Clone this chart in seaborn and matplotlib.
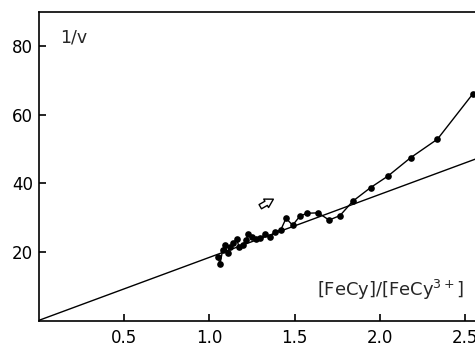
import matplotlib
matplotlib.use("Agg")
import matplotlib.pyplot as plt
import seaborn as sns
import pandas as pd

# measured data points (ratio [FeCy]/[FeCy3+], 1/v)
ratio = [1.053, 1.063, 1.079, 1.093, 1.108, 1.122, 1.141, 1.161, 1.176, 1.196,
         1.216, 1.229, 1.249, 1.274, 1.298, 1.327, 1.356, 1.385, 1.419, 1.450,
         1.489, 1.532, 1.575, 1.639, 1.702, 1.766, 1.841, 1.946, 2.046, 2.180,
         2.337, 2.544]
inv_v = [18.4, 16.4, 20.6, 22.0, 19.6, 21.5, 22.7, 23.7, 21.3, 22.0,
         23.5, 25.1, 24.3, 23.8, 24.0, 25.1, 24.4, 25.8, 26.4, 29.8,
         27.8, 30.5, 31.3, 31.4, 29.3, 30.6, 34.8, 38.8, 42.1, 47.5,
         52.9, 66.1]

# straight reference line through origin
fit_x = [0.0, 2.56]
fit_y = [0.0, 47.1]

x_ticks = [0.5, 1.0, 1.5, 2.0, 2.5]
x_ticklabels = ["0.5", "1.0", "1.5", "2.0", "2.5"]
y_ticks = [20, 40, 60, 80]
y_ticklabels = ["20", "40", "60", "80"]

sns.set_style("ticks")
plt.rcParams['font.family'] = ['DejaVu Sans']

W, H = 475, 347
fig = plt.figure(figsize=(W / 100, H / 100), dpi=100)
left, bottom, right, top = 38.5, 320.5, 475.0, 12.0
ax = fig.add_axes([left / W, (H - bottom) / H, (right - left) / W, (bottom - top) / H])

df = pd.DataFrame({"x": ratio, "y": inv_v})
fit = pd.DataFrame({"x": fit_x, "y": fit_y})

sns.lineplot(data=fit, x="x", y="y", ax=ax, color="black", linewidth=1.0, sort=False)
sns.lineplot(data=df, x="x", y="y", ax=ax, color="black", linewidth=1.0, sort=False,
             marker="o", markersize=4.8, markeredgewidth=0, markerfacecolor="black")

ax.set_xlim(0, 2.557)
ax.set_ylim(0, 90)
ax.set_xticks(x_ticks)
ax.set_xticklabels(x_ticklabels)
ax.set_yticks(y_ticks)
ax.set_yticklabels(y_ticklabels)
ax.tick_params(axis="both", direction="in", length=5, width=1.2, labelsize=12,
               colors="black")
ax.tick_params(axis="x", pad=6)
ax.tick_params(axis="y", pad=4)
ax.set_xlabel("")
ax.set_ylabel("")
for s in ["left", "bottom", "top"]:
    ax.spines[s].set_linewidth(1.2)
    ax.spines[s].set_color("black")
ax.spines["right"].set_visible(False)

ax.text(0.05, 0.945, "1/v", transform=ax.transAxes, fontsize=12.5, ha="left", va="top")
ax.text(0.975, 0.10, r"[FeCy]/[FeCy$^{3+}$]", transform=ax.transAxes, fontsize=13,
        ha="right", va="center")

ax.annotate("", xy=(1.39, 35.8), xytext=(1.285, 32.8),
            arrowprops=dict(arrowstyle="simple,head_length=0.6,head_width=0.7,tail_width=0.35",
                            facecolor="white", edgecolor="black", linewidth=1.0))

fig.savefig("out.png", dpi=100)
